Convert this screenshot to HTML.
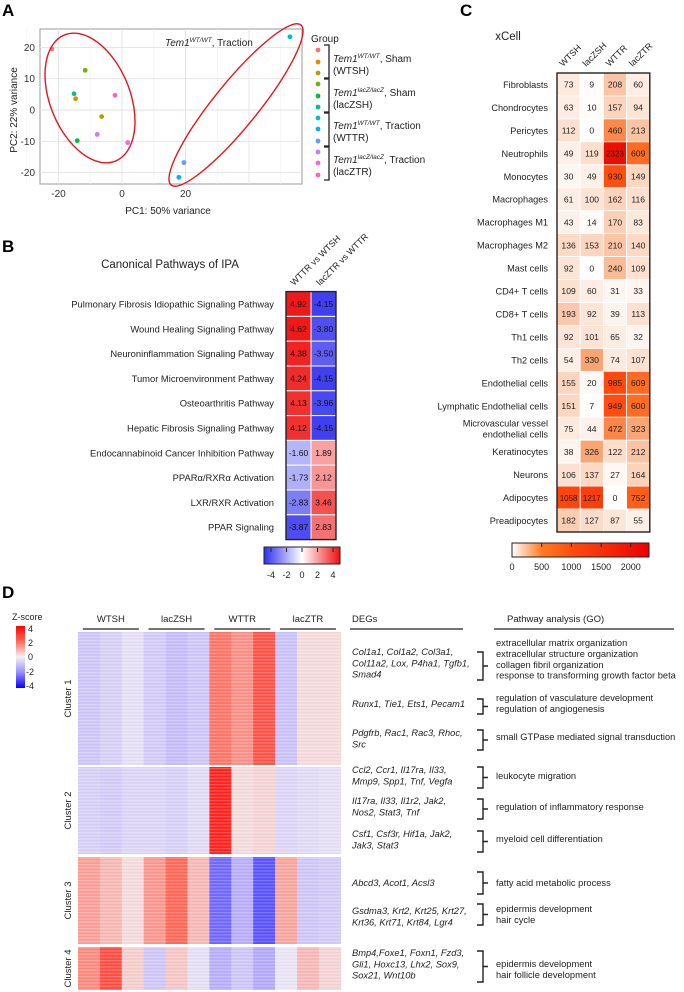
<!DOCTYPE html>
<html><head><meta charset="utf-8"><style>
html,body{margin:0;padding:0;background:#fff;}
svg{display:block;font-family:"Liberation Sans",Arial,sans-serif;}
</style></head><body>
<svg id="fig" width="684" height="992" viewBox="0 0 684 992" xmlns="http://www.w3.org/2000/svg">
<defs>
<pattern id="stripes" width="4" height="3.2" patternUnits="userSpaceOnUse">
<rect x="0" y="0" width="4" height="1.1" fill="#ffffff" opacity="0.22"/>
<rect x="0" y="2" width="4" height="0.6" fill="#000040" opacity="0.05"/>
</pattern>
<linearGradient id="gB" x1="0" x2="1"><stop offset="0" stop-color="#3030f0"/><stop offset="0.5" stop-color="#ffffff"/><stop offset="1" stop-color="#f01010"/></linearGradient>
<linearGradient id="gC" x1="0" x2="1"><stop offset="0" stop-color="#ffffff"/><stop offset="0.22" stop-color="#ff7a20"/><stop offset="0.45" stop-color="#ff4a10"/><stop offset="1" stop-color="#ee0000"/></linearGradient>
<linearGradient id="gD" x1="0" x2="0" y1="0" y2="1"><stop offset="0" stop-color="#ff0000"/><stop offset="0.25" stop-color="#ff6a5a"/><stop offset="0.5" stop-color="#f4f0f4"/><stop offset="0.75" stop-color="#9a8cff"/><stop offset="1" stop-color="#0000ff"/></linearGradient>
</defs>

<!-- Panel letters -->
<text x="2" y="16" font-size="17" font-weight="bold">A</text>
<text x="2" y="252" font-size="17" font-weight="bold">B</text>
<text x="460" y="16" font-size="17" font-weight="bold">C</text>
<text x="2" y="598" font-size="17" font-weight="bold">D</text>

<!-- Panel A -->
<g id="pA">
<rect x="40" y="29" width="262" height="155" fill="#fff" stroke="#999" stroke-width="1"/>
<g id="gridA"></g>
<g id="ticksA" font-size="10" fill="#333"></g>
<text x="168" y="214" font-size="10" text-anchor="middle" fill="#222">PC1: 50% variance</text>
<text transform="translate(17,110) rotate(-90)" font-size="10" text-anchor="middle" fill="#222">PC2: 22% variance</text>
<text x="165" y="46" font-size="10" fill="#222"><tspan font-style="italic">Tem1</tspan><tspan font-size="6.5" dy="-4" font-style="italic">WT/WT</tspan><tspan dy="4">, Traction</tspan></text>
<g id="ptsA"></g>
<ellipse cx="90" cy="98" rx="40" ry="68" transform="rotate(-22 90 98)" fill="none" stroke="#e8141c" stroke-width="1.4"/>
<ellipse cx="236" cy="105" rx="103" ry="22" transform="rotate(-51 236 105)" fill="none" stroke="#e8141c" stroke-width="1.4"/>
<text x="311" y="42" font-size="10" fill="#222">Group</text>
<g id="legA" font-size="10" fill="#222"></g>
</g>

<!-- Panel B -->
<g id="pB">
<text x="170" y="268" font-size="11.5" text-anchor="middle" fill="#222">Canonical Pathways of IPA</text>
<g id="cellsB"></g>
<text transform="translate(294,286) rotate(-45)" font-size="9" fill="#222">WTTR vs WTSH</text>
<text transform="translate(320,286) rotate(-45)" font-size="9" fill="#222">lacZTR vs WTTR</text>
<rect x="264" y="547" width="76" height="17" fill="url(#gB)" stroke="#222" stroke-width="1"/>
<g id="cbB" font-size="9" fill="#222"></g>
</g>

<!-- Panel C -->
<g id="pC">
<text x="508" y="40" font-size="11.5" text-anchor="middle" fill="#222">xCell</text>
<g id="cellsC"></g>
<rect x="512" y="543" width="137" height="14" fill="url(#gC)" stroke="#222" stroke-width="1"/>
<g id="cbC" font-size="9" fill="#222"></g>
</g>

<!-- Panel D -->
<g id="pD">
<text x="12" y="620" font-size="9" fill="#222">Z-score</text>
<rect x="16" y="626" width="9" height="62" fill="url(#gD)"/>
<g font-size="9" fill="#222">
<text x="28" y="632">4</text>
<text x="28" y="646">2</text>
<text x="28" y="660">0</text>
<text x="26" y="675">-2</text>
<text x="26" y="689">-4</text>
</g>
<g id="hdrD" font-size="9.5" fill="#222"></g>
<g id="cellsD"></g>
<g id="txtD" font-size="9.3" fill="#222"></g>
</g>
</svg>
<script>
const NS="http://www.w3.org/2000/svg";
function mk(tag,attrs,parent){const e=document.createElementNS(NS,tag);for(const k in attrs)e.setAttribute(k,attrs[k]);parent.appendChild(e);return e;}
function $(id){return document.getElementById(id);}
function mix(a,b,t){return 'rgb('+a.map((v,i)=>Math.round(v+(b[i]-v)*t)).join(',')+')';}

/* ---------- Panel A data ---------- */
const pcaX=[-22.1,-14.6,-6.4,-11.6,-14.1,-15.1,52.9,17.9,19.5,-7.8,1.8,-2.2];
const pcaY=[19.5,3.6,-2.1,12.7,-9.8,5.2,23.4,-21.5,-16.8,-7.8,-10.4,4.7];
const pcaXTicks=[-20,0,20];
const pcaYTicks=[20,10,0,-10,-20];
const pcaHues=["#F8766D","#DE8C00","#B79F00","#7CAE00","#00BA38","#00C08B","#00BFC4","#00B4F0","#619CFF","#C77CFF","#F564E3","#FF64B0"];
const sxA=v=>122+v*3.175, syA=v=>110-v*3.13;
(function(){
 const g=$('gridA'),t=$('ticksA'),p=$('ptsA'),l=$('legA');
 [-30,-10,10,30,50].forEach(v=>{const e=mk('line',{x1:sxA(v),x2:sxA(v),y1:29,y2:184,stroke:'#f0f0f0','stroke-width':0.6},g);});
 [-20,0,20,40].forEach(v=>{const e=mk('line',{x1:sxA(v),x2:sxA(v),y1:29,y2:184,stroke:'#e2e2e2','stroke-width':0.9},g);
   
   });
 pcaYTicks.forEach(v=>{const e=mk('line',{x1:40,x2:302,y1:syA(v),y2:syA(v),stroke:'#e2e2e2','stroke-width':0.9},g);
   
   
   const tx=mk('text',{x:35,y:syA(v)+3.5,'text-anchor':'end'},t);tx.textContent=v;
   
   });
 pcaXTicks.forEach(v=>{const tx=mk('text',{x:sxA(v),y:197,'text-anchor':'middle'},t);tx.textContent=v;
   
   });
 pcaX.forEach((x,i)=>{const c=mk('circle',{cx:sxA(x),cy:syA(pcaY[i]),r:2.4,fill:pcaHues[i]},p);
   
   });
 const dy=[50,62,73,84,96,107,118,129,141,152,163,175];
 dy.forEach((y,i)=>{const c=mk('circle',{cx:318,cy:y,r:2.4,fill:pcaHues[i]},l);
   
   });
 const groups=[["WT/WT",", Sham","(WTSH)"],["lacZ/lacZ",", Sham","(lacZSH)"],["WT/WT",", Traction","(WTTR)"],["lacZ/lacZ",", Traction","(lacZTR)"]];
 groups.forEach((gp,i)=>{const y0=dy[i*3]-5,y1=dy[i*3+2]+5;
   const br=mk('path',{d:`M324 ${y0} H329 V${y1} H324`,fill:'none',stroke:'#222','stroke-width':1.3},l);
   
   
   const yc=dy[i*3+1];
   const t1=mk('text',{x:333,y:yc},l);
   t1.innerHTML='<tspan font-style="italic">Tem1</tspan><tspan font-size="6.5" dy="-4" font-style="italic">'+gp[0]+'</tspan><tspan dy="4">'+gp[1]+'</tspan>';
   
   
   const t2=mk('text',{x:333,y:yc+12},l);t2.textContent=gp[2];
   
   });
})();

/* ---------- Panel B data ---------- */
const ipaPathways=["Pulmonary Fibrosis Idiopathic Signaling Pathway","Wound Healing Signaling Pathway","Neuroninflammation Signaling Pathway","Tumor Microenvironment Pathway","Osteoarthritis Pathway","Hepatic Fibrosis Signaling Pathway","Endocannabinoid Cancer Inhibition Pathway","PPARα/RXRα Activation","LXR/RXR Activation","PPAR Signaling"];
const ipaWTTRvsWTSH=[4.92,4.62,4.38,4.24,4.13,4.12,-1.60,-1.73,-2.83,-3.87];
const ipaLacZTRvsWTTR=[-4.15,-3.80,-3.50,-4.15,-3.96,-4.15,1.89,2.12,3.46,2.83];
const ipaTicks=[-4,-2,0,2,4];
function colB(v){return v>=0?mix([255,255,255],[240,24,24],Math.min(1,v/4.6)):mix([255,255,255],[62,62,240],Math.min(1,-v/4.2));}
(function(){
 const g=$('cellsB'),top=291.6,h=24.8,x0=286,w=25;
 ipaPathways.forEach((name,i)=>{const y=top+i*h;
   const lb=mk('text',{x:274,y:y+h/2+3.5,'text-anchor':'end','font-size':9.4,fill:'#222'},g);lb.textContent=name;
   
   
   [ipaWTTRvsWTSH[i],ipaLacZTRvsWTTR[i]].forEach((v,j)=>{
     const r=mk('rect',{x:x0+j*w,y:y,width:w,height:h,fill:colB(v),stroke:'#fff','stroke-width':1},g);
     
     
     const t=mk('text',{x:x0+j*w+w/2,y:y+h/2+3,'text-anchor':'middle','font-size':8.5,fill:'#111'},g);t.textContent=v.toFixed(2);
     
     });
 });
 const b=mk('rect',{x:x0,y:top,width:2*w,height:h*ipaPathways.length,fill:'none',stroke:'#222','stroke-width':1.4},g);
 
 
 const cb=$('cbB');
 ipaTicks.forEach(v=>{const x=271+(v+4)*7.75;
   const tl=mk('line',{x1:x,x2:x,y1:548,y2:552,stroke:'#222'},cb);
   const t=mk('text',{x:x,y:578,'text-anchor':'middle'},cb);t.textContent=v;
   
   });
})();

/* ---------- Panel C data ---------- */
const cellTypes=["Fibroblasts","Chondrocytes","Pericytes","Neutrophils","Monocytes","Macrophages","Macrophages M1","Macrophages M2","Mast cells","CD4+ T cells","CD8+ T cells","Th1 cells","Th2 cells","Endothelial cells","Lymphatic Endothelial cells","Microvascular vessel|endothelial cells","Keratinocytes","Neurons","Adipocytes","Preadipocytes"];
const xcellGroups=["WTSH","lacZSH","WTTR","lacZTR"];
const xcellWTSH=[73,63,112,49,30,61,43,136,92,109,193,92,54,155,151,75,38,106,1058,182];
const xcellLacZSH=[9,10,0,119,49,100,14,153,0,60,92,101,330,20,7,44,326,137,1217,127];
const xcellWTTR=[208,157,460,2323,930,162,170,210,240,31,39,65,74,985,949,472,122,27,0,87];
const xcellLacZTR=[60,94,213,609,149,116,83,140,109,33,113,32,107,609,600,323,212,164,752,55];
const xcellTicks=[0,500,1000,1500,2000];
const stopsC=[[0,[255,255,255]],[50,[253,240,232]],[150,[251,214,192]],[300,[248,170,124]],[600,[255,108,34]],[1000,[255,72,14]],[2323,[236,14,0]]];
function colC(v){for(let i=1;i<stopsC.length;i++){if(v<=stopsC[i][0]){const a=stopsC[i-1],b=stopsC[i];return mix(a[1],b[1],(v-a[0])/(b[0]-a[0]));}}return 'rgb(236,14,0)';}
(function(){
 const g=$('cellsC'),top=73,h=22.95,x0=557,w=23.2;
 const cols=[xcellWTSH,xcellLacZSH,xcellWTTR,xcellLacZTR];
 xcellGroups.forEach((n,j)=>{const t=mk('text',{transform:`translate(${x0+j*w+6},${top-6}) rotate(-45)`,'font-size':9,fill:'#222'},g);t.textContent=n;
   
   });
 cellTypes.forEach((name,i)=>{const y=top+i*h;const parts=name.split('|');
   parts.forEach((p,k)=>{const lb=mk('text',{x:548,y:y+h/2+3.5+(parts.length>1?(k?5.5:-5.5):0),'text-anchor':'end','font-size':9.2,fill:'#222'},g);lb.textContent=p;
     
     });
   cols.forEach((arr,j)=>{const v=arr[i];
     const r=mk('rect',{x:x0+j*w,y:y,width:w,height:h,fill:colC(v),stroke:'#fff','stroke-width':0.8},g);
     
     
     const t=mk('text',{x:x0+j*w+w/2,y:y+h/2+3.2,'text-anchor':'middle','font-size':v>=1000?8:8.6,fill:'#222'},g);t.textContent=v;
     
     });
 });
 const b=mk('rect',{x:x0,y:top,width:4*w,height:h*cellTypes.length,fill:'none',stroke:'#222','stroke-width':1.4},g);
 
 
 const cb=$('cbC');
 xcellTicks.forEach(v=>{const x=512+v*0.0594;
   if(v>0){const tl=mk('line',{x1:x,x2:x,y1:543,y2:547,stroke:'#222'},cb);}
   const t=mk('text',{x:x,y:570,'text-anchor':'middle'},cb);t.textContent=v;
   
   });
})();

/* ---------- Panel D data ---------- */
const dGroups=["WTSH","lacZSH","WTTR","lacZTR"];
const clusterNames=["Cluster 1","Cluster 2","Cluster 3","Cluster 4"];
const cluster1Z=[-0.8,-0.6,-0.3,-0.7,-1.0,-0.8,1.8,1.4,2.4,-0.9,0.3,0.3];
const cluster2Z=[-0.6,-0.7,-0.5,-0.5,-0.6,-0.4,3.3,0.3,0.4,-0.5,-0.4,-0.3];
const cluster3Z=[1.2,0.8,0.3,1.3,2.0,0.8,-2.5,-1.3,-2.8,1.1,-0.8,-0.7];
const cluster4Z=[1.5,2.5,0.5,-0.8,0.6,-0.3,-1.3,-0.8,-1.4,-0.2,0.8,0.4];
function colD(v){return v>=0?(v<=2?mix([244,240,244],[255,106,90],v/2):mix([255,106,90],[255,0,0],(v-2)/2)):(v>=-2?mix([244,240,244],[154,140,255],-v/2):mix([154,140,255],[0,0,255],(-v-2)/2));}
(function(){
 const g=$('cellsD'),h=$('hdrD'),tx=$('txtD');
 const x0=78,w=21.9;
 const bands=[[632,765],[767,854],[857,944],[947,990]];
 const Z=[cluster1Z,cluster2Z,cluster3Z,cluster4Z];
 bands.forEach((b,ci)=>{
   Z[ci].forEach((v,j)=>{const r=mk('rect',{x:x0+j*w,y:b[0],width:w+0.3,height:b[1]-b[0],fill:colD(v)},g);
     
     });
   const s=mk('rect',{x:x0,y:b[0],width:12*w,height:b[1]-b[0],fill:'url(#stripes)'},g);
   
   
   const cl=mk('text',{transform:`translate(71,${(b[0]+b[1])/2}) rotate(-90)`,'text-anchor':'middle','font-size':9.5,fill:'#222'},g);cl.textContent=clusterNames[ci];
   
   
 });
 dGroups.forEach((n,j)=>{const cx=x0+(j*3+1.5)*w;
   const t=mk('text',{x:cx,y:622,'text-anchor':'middle'},h);t.textContent=n;
   
   
   mk('line',{x1:cx-28,x2:cx+28,y1:629,y2:629,stroke:'#222','stroke-width':1.3},h);});
 const t1=mk('text',{x:352,y:622},h);t1.textContent='DEGs';
 
 
 mk('line',{x1:350,x2:463,y1:629,y2:629,stroke:'#222','stroke-width':1.3},h);
 const t2=mk('text',{x:507,y:622},h);t2.textContent='Pathway analysis (GO)';
 
 
 mk('line',{x1:494,x2:674,y1:629,y2:629,stroke:'#222','stroke-width':1.3},h);
 const blocks=[
  [655,["Col1a1, Col1a2, Col3a1,","Col11a2, Lox, P4ha1, Tgfb1,","Smad4"],646,["extracellular matrix organization","extracellular structure organization","collagen fibril organization","response to transforming growth factor beta"],652,680],
  [707,["Runx1, Tie1, Ets1, Pecam1"],701,["regulation of vasculature development","regulation of angiogenesis"],699,714],
  [736,["Pdgfrb, Rac1, Rac3, Rhoc,","Src"],740,["small GTPase mediated signal transduction"],730,750],
  [773,["Ccl2, Ccr1,  Il17ra, Il33,","Mmp9, Spp1, Tnf, Vegfa"],779,["leukocyte migration"],767,788],
  [804,["Il17ra, Il33, Il1r2, Jak2,","Nos2, Stat3, Tnf"],810,["regulation of inflammatory response"],799,819],
  [837,["Csf1, Csf3r, Hif1a, Jak2,","Jak3, Stat3"],842,["myeloid cell differentiation"],831,852],
  [886,["Abcd3, Acot1, Acsl3"],886,["fatty acid metabolic process"],872,894],
  [914,["Gsdma3, Krt2, Krt25, Krt27,","Krt36, Krt71, Krt84, Lgr4"],912,["epidermis development","hair cycle"],904,925],
  [956,["Bmp4,Foxe1, Foxn1, Fzd3,","Gli1, Hoxc13, Lhx2, Sox9,","Sox21, Wnt10b"],967,["epidermis development","hair follicle development"],951,982]
 ];
 blocks.forEach(b=>{
   b[1].forEach((s,k)=>{const t=mk('text',{x:352,y:b[0]+k*11.3,'font-style':'italic'},tx);t.textContent=s;
     
     });
   b[3].forEach((s,k)=>{const t=mk('text',{x:496,y:b[2]+k*10.9},tx);t.textContent=s;
     
     });
   const m=(b[4]+b[5])/2;
   const p=mk('path',{d:`M477 ${b[4]} H483 V${b[5]} H477 M483 ${m} H488`,fill:'none',stroke:'#222','stroke-width':1.4},tx);
   
   
 });
})();
</script>
</body></html>
